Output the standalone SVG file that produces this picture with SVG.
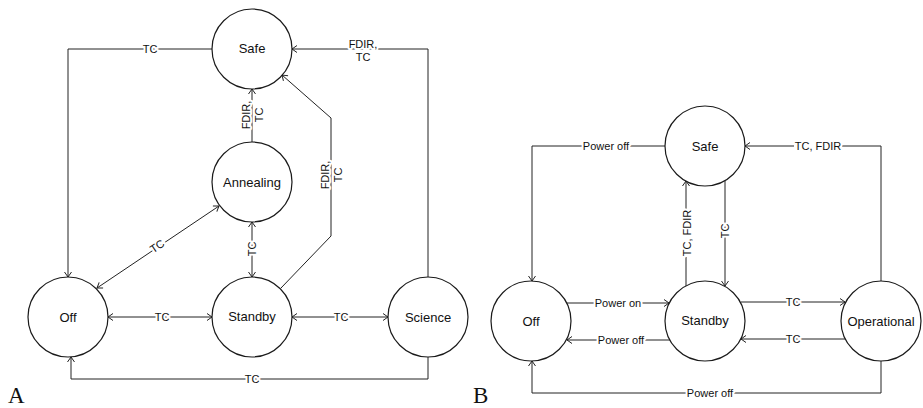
<svg xmlns="http://www.w3.org/2000/svg" width="923" height="408" viewBox="0 0 923 408">
<style>
.n circle{fill:#fff;stroke:#1a1a1a;stroke-width:1.2}
.n text{font-family:"Liberation Sans",Arial,sans-serif;font-size:13px;fill:#111;text-anchor:middle;dominant-baseline:central}
.e path{fill:none;stroke:#222;stroke-width:1}
.bg{fill:#fff;stroke:none}
.lbl{font-family:"Liberation Sans",Arial,sans-serif;font-size:11px;fill:#111;text-anchor:middle;stroke:#fff;stroke-width:4px;paint-order:stroke;stroke-linejoin:round}
.c{dominant-baseline:central}
.panel{font-family:"Liberation Serif","Times New Roman",serif;font-size:23px;fill:#111}
</style>
<defs>
<marker id="ah" viewBox="-6 -5 12 10" markerWidth="12" markerHeight="10" refX="0" refY="0" orient="auto-start-reverse" markerUnits="userSpaceOnUse" overflow="visible">
<path d="M-5,-3.5 L0,0 L-5,3.5" fill="none" stroke="#222" stroke-width="1"/>
</marker>
</defs>

<g id="connectors" class="e">
<!-- Diagram A -->
<path d="M212,49 H68 V277" marker-end="url(#ah)"/>
<path d="M428,277 V49 H292" marker-end="url(#ah)"/>
<path d="M252,142 V89" marker-end="url(#ah)"/>
<path d="M281,288 L331,236 V118 L282,75" marker-end="url(#ah)"/>
<path d="M97,288 L219,206" marker-start="url(#ah)" marker-end="url(#ah)"/>
<path d="M252,222 V277" marker-start="url(#ah)" marker-end="url(#ah)"/>
<path d="M108,317 H212" marker-start="url(#ah)" marker-end="url(#ah)"/>
<path d="M292,317 H388" marker-start="url(#ah)" marker-end="url(#ah)"/>
<path d="M428,357 V379 H71 V357" marker-end="url(#ah)"/>
<!-- Diagram B -->
<path d="M665,146 H532 V281" marker-end="url(#ah)"/>
<path d="M881,281 V146 H745" marker-end="url(#ah)"/>
<path d="M686,286 V181" marker-end="url(#ah)"/>
<path d="M725,181 V286" marker-end="url(#ah)"/>
<path d="M567,303 H669" marker-end="url(#ah)"/>
<path d="M670,340 H567" marker-end="url(#ah)"/>
<path d="M741,302 H845" marker-end="url(#ah)"/>
<path d="M845,339 H741" marker-end="url(#ah)"/>
<path d="M881,361 V393 H532 V361" marker-end="url(#ah)"/>

<!-- label backgrounds for labels with spaces -->
<rect class="bg" x="582" y="139" width="48" height="14"/>
<rect class="bg" x="794" y="139" width="48" height="14"/>
<rect class="bg" x="680" y="209" width="14" height="48"/>
<rect class="bg" x="594" y="296" width="48" height="14"/>
<rect class="bg" x="597" y="333" width="48" height="14"/>
<rect class="bg" x="686" y="386" width="48" height="14"/>

<!-- labels A -->
<text class="lbl c" x="150" y="49">TC</text>
<text class="lbl" x="363" y="48">FDIR,</text>
<text class="lbl" x="363" y="61">TC</text>
<g transform="translate(252,115) rotate(-90)">
<text class="lbl" x="0" y="-2">FDIR,</text>
<text class="lbl" x="0" y="11">TC</text>
</g>
<g transform="translate(331,175) rotate(-90)">
<text class="lbl" x="0" y="-2">FDIR,</text>
<text class="lbl" x="0" y="11">TC</text>
</g>
<text class="lbl c" transform="translate(157,246) rotate(-34)">TC</text>
<text class="lbl c" transform="translate(252,249) rotate(-90)">TC</text>
<text class="lbl c" x="162" y="317">TC</text>
<text class="lbl c" x="341" y="317">TC</text>
<text class="lbl c" x="252" y="379">TC</text>
<!-- labels B -->
<text class="lbl c" x="606" y="146">Power off</text>
<text class="lbl c" x="818" y="146">TC, FDIR</text>
<text class="lbl c" transform="translate(687,233) rotate(-90)">TC, FDIR</text>
<text class="lbl c" transform="translate(725,231) rotate(-90)">TC</text>
<text class="lbl c" x="618" y="303">Power on</text>
<text class="lbl c" x="621" y="340">Power off</text>
<text class="lbl c" x="793" y="302">TC</text>
<text class="lbl c" x="793" y="339">TC</text>
<text class="lbl c" x="710" y="393">Power off</text>
</g>

<g id="A-safe" class="n"><circle cx="252" cy="49" r="40"/><text x="252" y="48">Safe</text></g>
<g id="A-annealing" class="n"><circle cx="252" cy="182" r="40"/><text x="252" y="182">Annealing</text></g>
<g id="A-off" class="n"><circle cx="68" cy="317" r="40"/><text x="68" y="317">Off</text></g>
<g id="A-standby" class="n"><circle cx="252" cy="317" r="40"/><text x="252" y="316">Standby</text></g>
<g id="A-science" class="n"><circle cx="428" cy="317" r="40"/><text x="428" y="317">Science</text></g>

<g id="B-safe" class="n"><circle cx="705" cy="146" r="40"/><text x="705" y="146">Safe</text></g>
<g id="B-off" class="n"><circle cx="531" cy="321" r="40"/><text x="531" y="321">Off</text></g>
<g id="B-standby" class="n"><circle cx="705" cy="321" r="40"/><text x="705" y="320">Standby</text></g>
<g id="B-operational" class="n"><circle cx="881" cy="321" r="40"/><text x="881" y="321">Operational</text></g>

<text class="panel" x="8" y="403">A</text>
<text class="panel" x="473" y="403">B</text>
</svg>
